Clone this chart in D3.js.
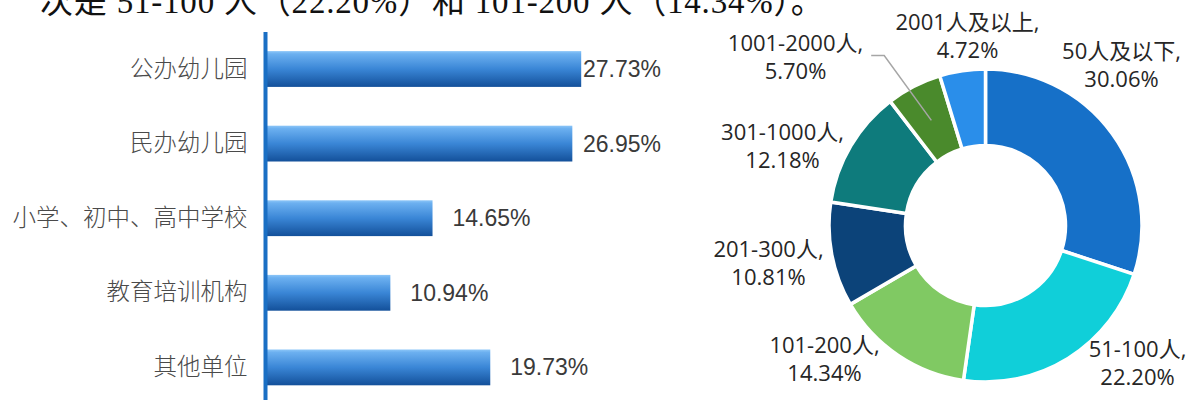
<!DOCTYPE html>
<html>
<head>
<meta charset="utf-8">
<script src="https://cdn.jsdelivr.net/npm/d3@7"></script>
<style>
  html, body { margin: 0; padding: 0; background: #fff; }
  svg { display: block; }
</style>
</head>
<body>
<svg id="chart" width="1197" height="400"></svg>
<script>
// ---------- data ----------
const headline = "次是 51-100 人（22.20%）和 101-200 人（14.34%）。";

const barCategories = ["公办幼儿园", "民办幼儿园", "小学、初中、高中学校", "教育培训机构", "其他单位"];
const barValues = [27.73, 26.95, 14.65, 10.94, 19.73];

const donutCategories = ["50人及以下", "51-100人", "101-200人", "201-300人", "301-1000人", "1001-2000人", "2001人及以上"];
const donutValues = [30.06, 22.20, 14.34, 10.81, 12.18, 5.70, 4.72];

// ---------- layout / style (kept separate from data) ----------
const donutColors = ["#1670c8", "#10cfd9", "#80c963", "#0c4379", "#0e7b7c", "#4a8a2c", "#2a8eea"];
// label centres relative to donut centre (Excel best-fit placement)
const donutLabelOffsets = [[136, -160], [152, 138], [-161, 134], [-217, 38], [-203, -79], [-190, -168], [-18, -189]];

const svg = d3.select("#chart");

// headline (cut off at the top in the reference)
svg.append("text")
  .attr("x", 40).attr("y", 13)
  .attr("font-family", "'Liberation Serif', 'Noto Sans CJK SC', serif")
  .attr("font-size", 33)
  .attr("letter-spacing", 0.8)
  .attr("fill", "#111")
  .text(headline);

// ---------- bar chart ----------
const defs = svg.append("defs");
const grad = defs.append("linearGradient").attr("id", "barGrad")
  .attr("x1", 0).attr("y1", 0).attr("x2", 0).attr("y2", 1);
grad.append("stop").attr("offset", "0%").attr("stop-color", "#8cc6f8");
grad.append("stop").attr("offset", "8%").attr("stop-color", "#6cb0f0");
grad.append("stop").attr("offset", "50%").attr("stop-color", "#3a86d6");
grad.append("stop").attr("offset", "100%").attr("stop-color", "#13509a");

const x = d3.scaleLinear().domain([0, 30]).range([266, 607]);
const y = d3.scaleBand().domain(barCategories).range([31.7, 404.7])
  .paddingInner(0.52).paddingOuter(0.26);

const bars = svg.append("g");
bars.selectAll("rect").data(barValues).join("rect")
  .attr("x", x(0))
  .attr("y", (d, i) => y(barCategories[i]))
  .attr("width", d => x(d) - x(0))
  .attr("height", y.bandwidth())
  .attr("fill", "url(#barGrad)");

// axis line
const yAxis = d3.axisLeft(y).tickSize(0).tickPadding(18);
const axisG = svg.append("g").attr("transform", `translate(${x(0) - 0.5},0)`).call(yAxis);
axisG.select(".domain").attr("d", `M0,32V400`).attr("stroke", "#1a6fc4").attr("stroke-width", 4);
axisG.selectAll(".tick text")
  .attr("font-family", "'Noto Sans CJK SC', sans-serif")
  .attr("font-size", 23.5)
  .attr("font-weight", 300)
  .attr("fill", "#4a4a4a");

bars.selectAll("text.val").data(barValues).join("text")
  .attr("class", "val")
  .attr("x", d => Math.min(x(d) + 20, x.range()[1] - 24))
  .attr("y", (d, i) => y(barCategories[i]) + y.bandwidth() / 2)
  .attr("dy", "0.35em")
  .attr("font-family", "'Liberation Sans', Arial, sans-serif")
  .attr("font-size", 23)
  .attr("fill", "#3a3a3a")
  .text(d => d.toFixed(2) + "%");

// ---------- donut ----------
const cx = 985.5, cy = 225.5;
const pie = d3.pie().sort(null).value(d => d);
const arc = d3.arc().innerRadius(80).outerRadius(156.5);
const arcs = pie(donutValues);

const dg = svg.append("g").attr("transform", `translate(${cx},${cy})`);
dg.selectAll("path").data(arcs).join("path")
  .attr("d", arc)
  .attr("fill", (d, i) => donutColors[i])
  .attr("stroke", "#fff")
  .attr("stroke-width", 3.5)
  .attr("stroke-linejoin", "miter");

const labels = dg.selectAll("g.lab").data(arcs).join("g")
  .attr("class", "lab")
  .attr("transform", (d, i) => `translate(${donutLabelOffsets[i][0]},${donutLabelOffsets[i][1]})`);

labels.each(function (d, i) {
  const g = d3.select(this);
  const t = g.append("text")
    .attr("text-anchor", "middle")
    .attr("font-family", "'Open Sans', 'Noto Sans CJK SC', sans-serif")
    .attr("font-size", 22)
    .attr("fill", "#262626");
  t.append("tspan").attr("x", 0).attr("y", -14).attr("dy", "0.35em").text(donutCategories[i] + ",");
  t.append("tspan").attr("x", 0).attr("y", 14).attr("dy", "0.35em").text(donutValues[i].toFixed(2) + "%");
});

// leader line for the small 1001-2000 slice
const leaderIdx = 5;
{
  const c = arc.centroid(arcs[leaderIdx]);
  const lg = labels.filter((d, i) => i === leaderIdx);
  const bb = lg.select("tspan").node().getComputedTextLength();
  const o = donutLabelOffsets[leaderIdx];
  const sx = o[0] + bb / 2 + 8, sy = o[1] - 2;
  dg.append("path")
    .attr("d", d3.line()([[sx, sy], [sx + 13, sy], c]))
    .attr("fill", "none")
    .attr("stroke", "#a6a6a6")
    .attr("stroke-width", 1.5);
}
</script>
</body>
</html>
